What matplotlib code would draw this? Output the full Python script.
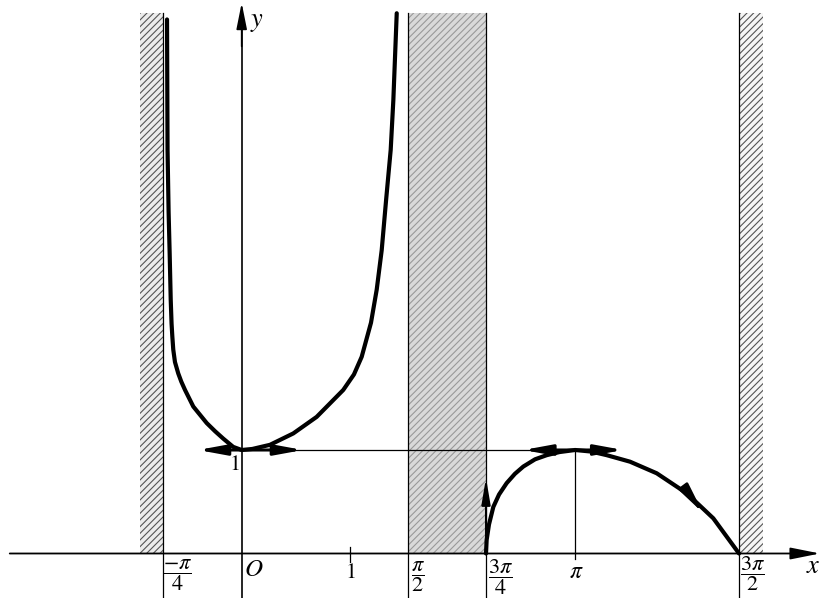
import matplotlib.pyplot as plt

plt.rcParams['mathtext.fontset'] = 'stix'
plt.rcParams['font.family'] = 'STIXGeneral'
plt.rcParams['hatch.linewidth'] = 0.8

# left branch (between the asymptotes near -pi/4 and pi/2)
left_x = [-0.705, -0.700, -0.690, -0.680, -0.670, -0.662, -0.655, -0.646, -0.630,
          -0.599, -0.570, -0.535, -0.457, -0.330, -0.250, -0.174, -0.080, 0.000,
          0.100, 0.267, 0.487, 0.708, 0.959, 1.060, 1.133, 1.221, 1.275, 1.322,
          1.364, 1.407, 1.432, 1.464]
left_y = [5.16, 3.90, 3.30, 2.90, 2.45, 2.22, 2.10, 1.97, 1.85,
          1.74, 1.66, 1.58, 1.42, 1.26, 1.18, 1.11, 1.03, 1.00,
          1.01, 1.05, 1.16, 1.32, 1.58, 1.73, 1.90, 2.23, 2.55, 2.93,
          3.42, 3.90, 4.38, 5.22]

# right arc from 3pi/4 to 3pi/2
right_x = [2.307, 2.313, 2.335, 2.376, 2.430, 2.502, 2.580, 2.659, 2.770, 2.880,
           3.000, 3.148, 3.300, 3.447, 3.667, 3.919, 4.202, 4.453, 4.696]
right_y = [0.00, 0.13, 0.28, 0.45, 0.57, 0.68, 0.77, 0.84, 0.91, 0.95,
           0.98, 1.00, 0.985, 0.95, 0.887, 0.775, 0.582, 0.340, 0.00]

# shaded bands (x from, x to), top height
bands = [(-0.960, -0.745), (1.571, 2.307), (4.696, 4.923)]
band_face = ['#ececec', '#d9d9d9', '#f6f6f6']
band_hatch = ['#555555', '#999999', '#555555']
band_top = 5.22

# vertical guide lines and tick labels
guides = [-0.745, 1.571, 2.307, 4.696]
tick_pos = [-0.602, 0.116, 1.023, 1.665, 2.440, 3.157, 4.820]
tick_txt = [r'$\dfrac{-\pi}{4}$', r'$O$', r'$1$', r'$\dfrac{\pi}{2}$',
            r'$\dfrac{3\pi}{4}$', r'$\pi$', r'$\dfrac{3\pi}{2}$']
tick_y = [-0.208, -0.159, -0.188, -0.227, -0.227, -0.179, -0.198]
tick_size = [16, 18, 16, 16, 16, 17, 16]

# tangent arrows at the extrema, and the connecting level line y = 1
tan_left = (-0.413, 0.579)
tan_right = (2.659, 3.603)
level = 1.0

fig = plt.figure(figsize=(8.21, 5.98), dpi=100)
ax = fig.add_axes([0, 0, 1, 1])
ax.set_xlim(-2.282, 5.470)
ax.set_ylim(-0.430, 5.348)
ax.axis('off')

for (a, b), fc, hc in zip(bands, band_face, band_hatch):
    ax.fill_between([a, b], 0, band_top, facecolor=fc, edgecolor=hc,
                    hatch='/////', linewidth=0)

for g in guides:
    ax.plot([g, g], [-0.43, band_top], color='k', lw=0.9)
ax.plot([0, 0], [-0.43, 5.2], color='k', lw=1.2)

# axes with arrowheads
ax.annotate('', xy=(5.46, 0), xytext=(-2.19, 0),
            arrowprops=dict(arrowstyle='-|>,head_length=1.0,head_width=0.2',
                            mutation_scale=18, lw=1.3, color='k',
                            shrinkA=0, shrinkB=0))
ax.annotate('', xy=(0, 5.32), xytext=(0, 4.9),
            arrowprops=dict(arrowstyle='-|>,head_length=1.0,head_width=0.2',
                            mutation_scale=16, lw=1.2, color='k',
                            shrinkA=0, shrinkB=0))

# level line and tick marks
ax.plot([tan_left[1] - 0.2, tan_right[0] + 0.2], [level, level], color='k', lw=0.9)
ax.plot([3.148, 3.148], [-0.05, 1.0], color='k', lw=0.9)
ax.plot([1.023, 1.023], [-0.08, 0.06], color='k', lw=0.9)

ax.plot(left_x, left_y, color='k', lw=3.0, solid_capstyle='round', solid_joinstyle='round')
ax.plot(right_x, right_y, color='k', lw=3.0, solid_capstyle='round', solid_joinstyle='round')

tan_style = dict(arrowstyle='<|-|>,head_length=1.2,head_width=0.22',
                 mutation_scale=14, lw=2.2, color='k', shrinkA=0, shrinkB=0)
ax.annotate('', xy=(tan_left[0], level), xytext=(tan_left[1], level), arrowprops=tan_style)
ax.annotate('', xy=(tan_right[0], level), xytext=(tan_right[1], level), arrowprops=tan_style)

# vertical tangent at 3pi/4 and slanted one near 3pi/2
ax.annotate('', xy=(2.307, 0.73), xytext=(2.307, 0.0),
            arrowprops=dict(arrowstyle='-|>,head_length=1.3,head_width=0.22',
                            mutation_scale=12, lw=1.5, color='k',
                            shrinkA=0, shrinkB=0))
ax.annotate('', xy=(4.357, 0.391), xytext=(4.216, 0.585),
            arrowprops=dict(arrowstyle='-|>,head_length=1.4,head_width=0.25',
                            mutation_scale=13, lw=2.0, color='k',
                            shrinkA=0, shrinkB=0))

for p, t, yy, s in zip(tick_pos, tick_txt, tick_y, tick_size):
    ax.text(p, yy, t, fontsize=s, ha='center', va='center')

ax.text(5.395, -0.13, r'$x$', fontsize=19, ha='center', va='center')
ax.text(0.144, 5.135, r'$y$', fontsize=19, ha='center', va='center')
ax.text(-0.073, 0.855, r'$1$', fontsize=16, ha='center', va='center')

fig.savefig('out.png', dpi=100)
